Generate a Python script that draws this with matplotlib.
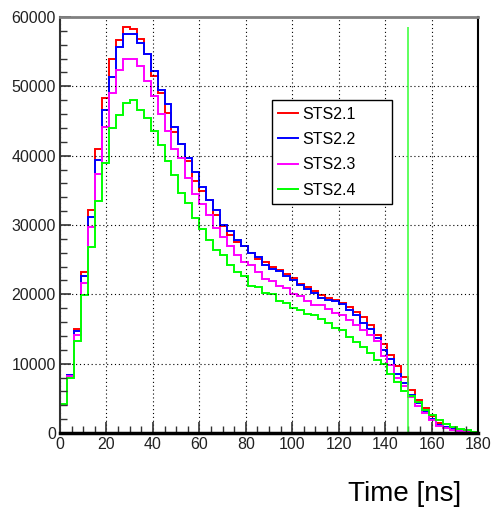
#!/usr/bin/env python3
"""Time distribution of hits for the four STS2 stations (ROOT-style step histograms)."""

import numpy as np
import matplotlib
matplotlib.use("Agg")
import matplotlib.pyplot as plt
from matplotlib.ticker import MultipleLocator

plt.rcParams['font.family'] = ['Liberation Sans', 'DejaVu Sans']

# 3 ns bins from 0 to 180 ns
BIN_W = 3
edges = np.arange(0, 180 + BIN_W, BIN_W)

sts21 = [4000, 8300, 15000, 23200, 32100, 41000, 48300, 53900, 56700, 58600,
         58300, 56800, 54700, 51500, 49100, 46100, 43400, 41700, 39300, 36400,
         34900, 33600, 31500, 29900, 28600, 27600, 26900, 26000, 25100, 24600,
         24000, 23500, 22900, 22300, 21500, 21100, 20500, 19900, 19500, 19200,
         18800, 18100, 17500, 16700, 15600, 14200, 12800, 11200, 9600, 8100,
         6200, 4700, 3600, 2400, 1500, 900, 600, 400, 250, 100]
sts22 = [4100, 8300, 14700, 22600, 31200, 39400, 46600, 51400, 55700, 57600,
         57600, 56300, 54600, 52200, 49500, 47400, 44100, 41700, 39700, 37600,
         35500, 33600, 32200, 30000, 29100, 27900, 26900, 26000, 25400, 24200,
         23700, 23300, 22600, 22100, 21400, 20700, 20200, 19500, 19200, 19000,
         18600, 17700, 17000, 15900, 15000, 13700, 11900, 10600, 8500, 7200,
         5500, 4300, 3200, 2000, 1200, 850, 580, 380, 220, 90]
sts23 = [4100, 8200, 14200, 21700, 29700, 37400, 44100, 49000, 52300, 53900,
         54000, 52900, 50700, 48600, 46000, 43600, 40900, 39600, 36800, 34400,
         33000, 31500, 29600, 28300, 26900, 25700, 24700, 24200, 23200, 22200,
         21900, 21200, 20900, 20100, 19700, 19000, 18500, 18400, 17900, 17350,
         17000, 16300, 15600, 14800, 14200, 13200, 11100, 9800, 8000, 6800,
         5200, 3950, 2900, 1800, 960, 720, 480, 340, 190, 100]
sts24 = [4200, 8000, 13300, 19900, 26800, 33500, 38900, 44000, 45800, 47600,
         48000, 46600, 45400, 43500, 41500, 39200, 37200, 34600, 33100, 31000,
         29400, 27900, 26400, 25600, 24200, 23200, 22600, 21200, 21000, 20200,
         20000, 19000, 18800, 18050, 17800, 17200, 17000, 16400, 15800, 15200,
         14800, 13800, 13100, 12400, 11600, 10500, 9900, 8500, 7300, 6100,
         5400, 4400, 3300, 2650, 1900, 1350, 870, 580, 390, 190]
# single narrow spike in STS2.4 at 150 ns
spike_t = 150
spike_h = 58500

series = [
    ("STS2.1", sts21, "#ff0000"),
    ("STS2.2", sts22, "#0000ff"),
    ("STS2.3", sts23, "#ff00ff"),
    ("STS2.4", sts24, "#00ff00"),
]

fig = plt.figure(figsize=(4.93, 5.07), dpi=100)
ax = fig.add_axes([0.1217, 0.146, 0.848, 0.8205])

for name, vals, col in series:
    ax.stairs(vals, edges, baseline=None, color=col, lw=1.4, label=name)
ax.vlines(spike_t, 0, spike_h, color="#33ff33", lw=1.1)

ax.set_xlim(0, 180)
ax.set_ylim(0, 60000)

ax.xaxis.set_major_locator(MultipleLocator(20))
ax.xaxis.set_minor_locator(MultipleLocator(5))
ax.yaxis.set_major_locator(MultipleLocator(10000))
ax.yaxis.set_minor_locator(MultipleLocator(2000))
ax.tick_params(which='both', direction='in', top=False, right=False,
               labelsize=11.5, labelcolor='#222222', color='#333333')
ax.tick_params(which='major', length=8, width=1.2, pad=3)
ax.tick_params(which='minor', length=5, width=1.0)

ax.grid(which='major', color='black', ls=(0, (1, 2.5)), lw=0.8)

ax.spines['top'].set_color('#808080')
ax.spines['top'].set_linewidth(2)
ax.spines['right'].set_color('black')
ax.spines['right'].set_linewidth(1.5)
ax.spines['left'].set_color('#333333')
ax.spines['left'].set_linewidth(1.5)
ax.spines['bottom'].set_color('black')
ax.spines['bottom'].set_linewidth(2.5)

leg = ax.legend(loc='upper left', bbox_to_anchor=(0.507, 0.548, 0.287, 0.252),
                mode='expand', borderaxespad=0, fontsize=11.5, handlelength=1.2,
                handletextpad=0.3, labelspacing=0.65, borderpad=0.4,
                fancybox=False, framealpha=1, edgecolor='black')
leg.get_frame().set_linewidth(1.0)

fig.text(0.935, 0.012, "Time [ns]", fontsize=20, ha='right', va='baseline')

fig.savefig("out.png", dpi=100)
